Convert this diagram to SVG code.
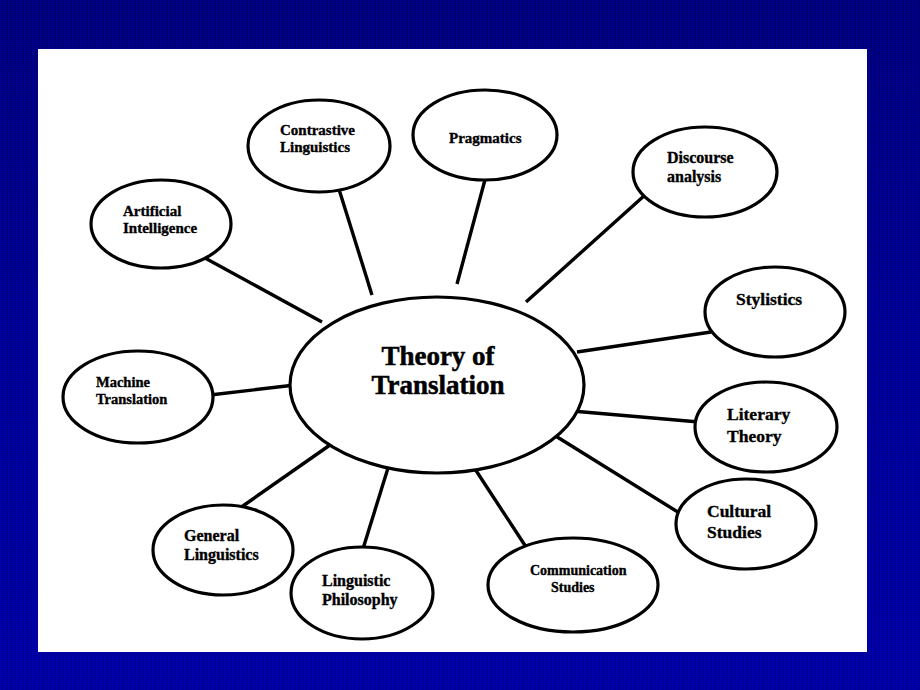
<svg xmlns="http://www.w3.org/2000/svg" width="920" height="690" viewBox="0 0 920 690">
  <defs>
    <linearGradient id="bgGrad" x1="0" y1="0" x2="0" y2="1">
      <stop offset="0" stop-color="#00007a"/>
      <stop offset="0.5" stop-color="#000096"/>
      <stop offset="1" stop-color="#0000a6"/>
    </linearGradient>
    <pattern id="tex" width="4" height="4" patternUnits="userSpaceOnUse">
      <rect x="0" y="0" width="1" height="1" fill="#0000c8" opacity="0.55"/>
      <rect x="2" y="1" width="1" height="1" fill="#000050" opacity="0.5"/>
      <rect x="1" y="2" width="1" height="1" fill="#0000c0" opacity="0.45"/>
      <rect x="3" y="3" width="1" height="1" fill="#00005a" opacity="0.5"/>
    </pattern>
    <style>
      .node ellipse { fill: #ffffff; stroke: #000000; stroke-width: 3.2; }
      .conn line { stroke: #000000; stroke-width: 3.4; stroke-linecap: butt; }
      text { font-family: "Liberation Serif", "Times New Roman", serif; font-weight: bold; fill: #000000; stroke: #000000; stroke-width: 0.35; }
      .s14 { font-size: 14px; }
      .s145 { font-size: 14.5px; }
      .s15 { font-size: 15px; }
      .s16 { font-size: 16px; }
      .s175 { font-size: 17.5px; }
      .big { font-size: 27px; text-anchor: middle; stroke-width: 0.5; }
    </style>
  </defs>

  <rect x="0" y="0" width="920" height="690" fill="url(#bgGrad)"/>
  <rect x="0" y="0" width="920" height="690" fill="url(#tex)"/>
  <rect x="38" y="49" width="829" height="603" fill="#ffffff"/>

  <g id="connectors" class="conn">
    <line x1="205" y1="258" x2="322" y2="322"/>
    <line x1="338" y1="186" x2="372" y2="295"/>
    <line x1="486" y1="176" x2="457" y2="284"/>
    <line x1="645" y1="195" x2="526" y2="302"/>
    <line x1="210" y1="395" x2="295" y2="385"/>
    <line x1="711" y1="332" x2="577" y2="352"/>
    <line x1="699" y1="422" x2="572" y2="411"/>
    <line x1="681" y1="514" x2="554" y2="435"/>
    <line x1="528" y1="550" x2="475" y2="469"/>
    <line x1="240" y1="508" x2="330" y2="445"/>
    <line x1="362" y1="552" x2="388" y2="468"/>
  </g>

  <g id="theory-of-translation" class="node">
    <ellipse cx="437" cy="385" rx="147" ry="88"/>
    <text class="big" x="438" y="365">Theory of</text>
    <text class="big" x="438" y="394">Translation</text>
  </g>

  <g id="contrastive-linguistics" class="node">
    <ellipse cx="319" cy="146" rx="71" ry="46"/>
    <text class="s15" x="280" y="135">Contrastive</text>
    <text class="s15" x="280" y="152">Linguistics</text>
  </g>

  <g id="pragmatics" class="node">
    <ellipse cx="485" cy="135" rx="72" ry="45"/>
    <text class="s15" x="449" y="143">Pragmatics</text>
  </g>

  <g id="discourse-analysis" class="node">
    <ellipse cx="705" cy="172" rx="72" ry="45"/>
    <text class="s16" x="667" y="163">Discourse</text>
    <text class="s16" x="667" y="182">analysis</text>
  </g>

  <g id="artificial-intelligence" class="node">
    <ellipse cx="161" cy="224" rx="70" ry="44"/>
    <text class="s15" x="123" y="216">Artificial</text>
    <text class="s15" x="123" y="233">Intelligence</text>
  </g>

  <g id="machine-translation" class="node">
    <ellipse cx="138" cy="397" rx="75" ry="46"/>
    <text class="s145" x="96" y="387">Machine</text>
    <text class="s145" x="96" y="404">Translation</text>
  </g>

  <g id="stylistics" class="node">
    <ellipse cx="775" cy="312" rx="70" ry="45"/>
    <text class="s175" x="736" y="305">Stylistics</text>
  </g>

  <g id="literary-theory" class="node">
    <ellipse cx="766" cy="427" rx="71" ry="45"/>
    <text class="s175" x="727" y="420">Literary</text>
    <text class="s175" x="727" y="442">Theory</text>
  </g>

  <g id="cultural-studies" class="node">
    <ellipse cx="746" cy="524" rx="70" ry="45"/>
    <text class="s175" x="707" y="517">Cultural</text>
    <text class="s175" x="707" y="538">Studies</text>
  </g>

  <g id="communication-studies" class="node">
    <ellipse cx="573" cy="585" rx="85" ry="47"/>
    <text class="s14" x="530" y="575">Communication</text>
    <text class="s14" x="551" y="592">Studies</text>
  </g>

  <g id="general-linguistics" class="node">
    <ellipse cx="223" cy="550" rx="70" ry="45"/>
    <text class="s16" x="184" y="541">General</text>
    <text class="s16" x="184" y="560">Linguistics</text>
  </g>

  <g id="linguistic-philosophy" class="node">
    <ellipse cx="362" cy="593" rx="71" ry="46"/>
    <text class="s16" x="322" y="586">Linguistic</text>
    <text class="s16" x="322" y="605">Philosophy</text>
  </g>
</svg>
